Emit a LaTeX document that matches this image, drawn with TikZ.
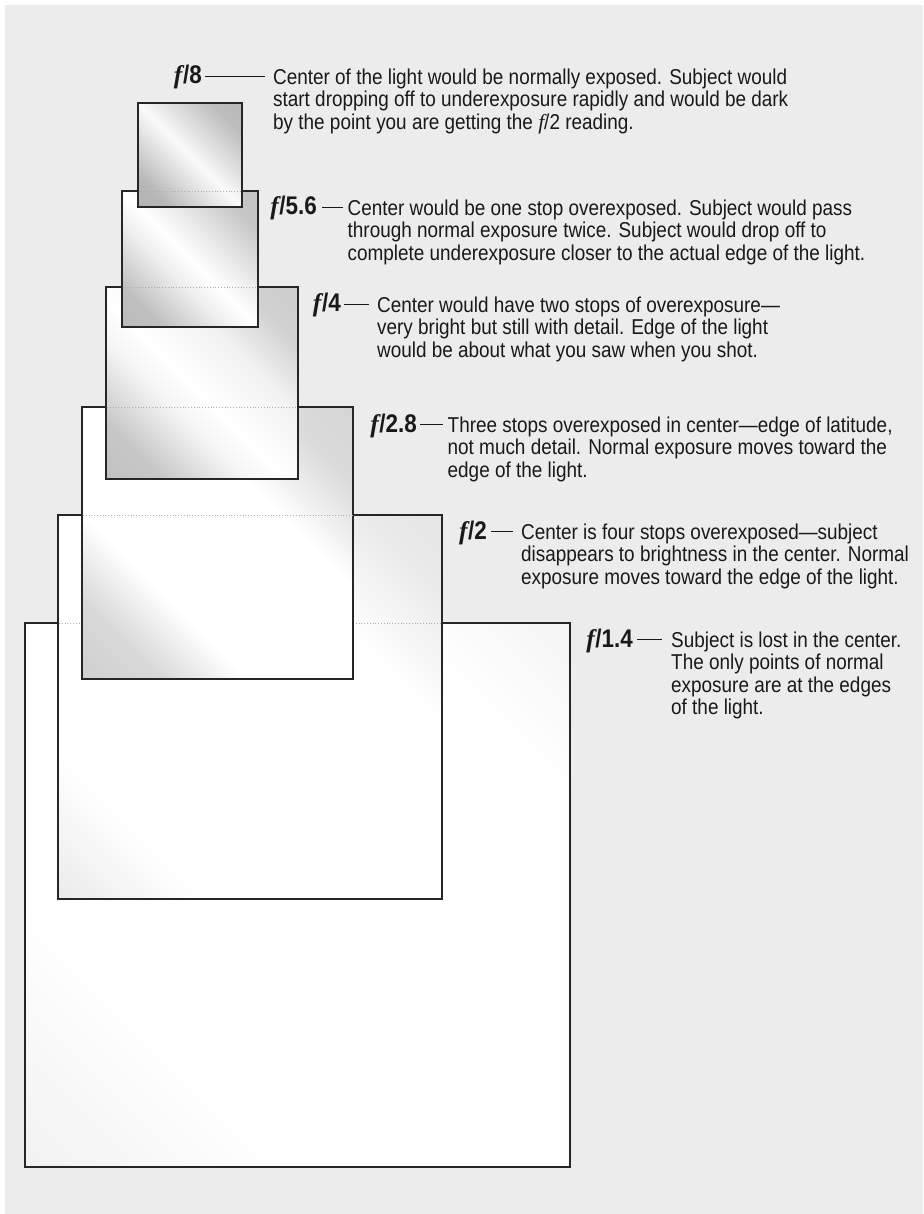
\documentclass[tikz,border=0pt]{standalone}
\usepackage{fontspec}
\setmainfont{Liberation Sans}[FakeStretch=0.88]
\newfontfamily\labfont{Liberation Sans}[FakeStretch=0.88]
\newfontfamily\ffont{Liberation Serif}
\usetikzlibrary{calc}
\definecolor{bgc}{HTML}{ECECEC}

\pgfdeclarehorizontalshading{shEight}{100bp}{color(0bp)=(black!32); color(25bp)=(black!28); color(42bp)=(black!10); color(50bp)=(black!2); color(58bp)=(black!10); color(75bp)=(black!26); color(100bp)=(black!30)}
\pgfdeclarehorizontalshading{shFiveSix}{100bp}{color(0bp)=(black!30); color(25bp)=(black!25); color(42bp)=(black!6); color(50bp)=(white); color(60bp)=(black!8); color(75bp)=(black!22); color(100bp)=(black!26)}
\pgfdeclarehorizontalshading{shFour}{100bp}{color(0bp)=(black!27); color(25bp)=(black!22); color(40bp)=(black!4); color(48bp)=(white); color(62bp)=(black!5); color(75bp)=(black!18); color(100bp)=(black!22)}
\pgfdeclarehorizontalshading{shTwoEight}{100bp}{color(0bp)=(black!24); color(25bp)=(black!15); color(36bp)=(white); color(62bp)=(white); color(75bp)=(black!14); color(100bp)=(black!20)}
\pgfdeclarehorizontalshading{shTwo}{100bp}{color(0bp)=(black!16); color(18bp)=(black!6); color(28bp)=(white); color(66bp)=(white); color(78bp)=(black!8); color(100bp)=(black!15)}
\pgfdeclarehorizontalshading{shOneFour}{100bp}{color(0bp)=(black!10); color(22bp)=(black!3); color(32bp)=(white); color(74bp)=(white); color(85bp)=(black!4); color(100bp)=(black!10)}

\newcommand{\fnum}[1]{{\ffont\bfseries\itshape f}\kern0.6pt/#1}
\newcommand{\fit}{{\ffont\itshape f}}

\tikzset{
  lens/.style={draw=black!85, line width=1.1pt},
  hidden/.style={draw=black!32, dotted, line width=0.8pt},
  lbl/.style={anchor=base east, inner sep=0pt, font=\labfont\bfseries\fontsize{25.5}{26}\selectfont, text=black!90},
  desc/.style={anchor=north west, inner sep=0pt, align=left, font=\fontsize{21.5}{22.5}\selectfont, text=black!90},
  dashln/.style={draw=black!90, line width=1.2pt},
}

\begin{document}
\begin{tikzpicture}[x=1pt, y=-1pt]
\useasboundingbox (0,0) rectangle (923,1214);
\fill[white] (0,0) rectangle (923,1214);
\fill[bgc] (5,5) rectangle (923,1214);

% f/1.4
\shade[shading=shOneFour, shading angle=45] (25,623) rectangle (570,1167);
\draw[lens] (25,623) rectangle (570,1167);
% f/2
\shade[shading=shTwo, shading angle=45] (58,515) rectangle (442,899);
\draw[lens] (58,515) rectangle (442,899);
\draw[hidden] (59,623) -- (441,623);
% f/2.8
\shade[shading=shTwoEight, shading angle=45] (82,407) rectangle (353,679);
\draw[lens] (82,407) rectangle (353,679);
\draw[hidden] (83,515) -- (352,515);
% f/4
\shade[shading=shFour, shading angle=45] (106,287) rectangle (298,479);
\draw[lens] (106,287) rectangle (298,479);
\draw[hidden] (107,407) -- (297,407);
% f/5.6
\shade[shading=shFiveSix, shading angle=45] (122,191) rectangle (258,327);
\draw[lens] (122,191) rectangle (258,327);
\draw[hidden] (123,287) -- (257,287);
% f/8
\shade[shading=shEight, shading angle=45] (138,103) rectangle (242,207);
\draw[lens] (138,103) rectangle (242,207);
\draw[hidden] (139,191) -- (241,191);

% labels and descriptions
\node[lbl] (l8) at (202,84) {\fnum{8}};
\node[desc] (t8) at (273,68) {\rule{0pt}{16pt}Center of the light would be normally exposed. Subject would\\start dropping off to underexposure rapidly and would be dark\\by the point you are getting the \fit/2 reading.};
\draw[dashln] ($(l8.base east)+(3,-7.5)$) -- ($(l8.base east -| t8.west)+(-8,-7.5)$);

\node[lbl] (l56) at (317,215) {\fnum{5.6}};
\node[desc] (t56) at (347.5,199) {\rule{0pt}{16pt}Center would be one stop overexposed. Subject would pass\\through normal exposure twice. Subject would drop off to\\complete underexposure closer to the actual edge of the light.};
\draw[dashln] ($(l56.base east)+(5,-7.5)$) -- ($(l56.base east -| t56.west)+(-4.5,-7.5)$);

\node[lbl] (l4) at (341,312) {\fnum{4}};
\node[desc] (t4) at (377,296) {\rule{0pt}{16pt}Center would have two stops of overexposure---\\very bright but still with detail. Edge of the light\\would be about what you saw when you shot.};
\draw[dashln] ($(l4.base east)+(3,-7.5)$) -- ($(l4.base east -| t4.west)+(-8,-7.5)$);

\node[lbl] (l28) at (417,432) {\fnum{2.8}};
\node[desc] (t28) at (447.5,416) {\rule{0pt}{16pt}Three stops overexposed in center---edge of latitude,\\not much detail. Normal exposure moves toward the\\edge of the light.};
\draw[dashln] ($(l28.base east)+(3,-7.5)$) -- ($(l28.base east -| t28.west)+(-4.5,-7.5)$);

\node[lbl] (l2) at (487,539) {\fnum{2}};
\node[desc] (t2) at (521,523) {\rule{0pt}{16pt}Center is four stops overexposed---subject\\disappears to brightness in the center. Normal\\exposure moves toward the edge of the light.};
\draw[dashln] ($(l2.base east)+(4,-7.5)$) -- ($(l2.base east -| t2.west)+(-8,-7.5)$);

\node[lbl] (l14) at (633,647) {\fnum{1.4}};
\node[desc] (t14) at (671,631) {\rule{0pt}{16pt}Subject is lost in the center.\\The only points of normal\\exposure are at the edges\\of the light.};
\draw[dashln] ($(l14.base east)+(4,-7.5)$) -- ($(l14.base east -| t14.west)+(-9,-7.5)$);
\end{tikzpicture}
\end{document}
